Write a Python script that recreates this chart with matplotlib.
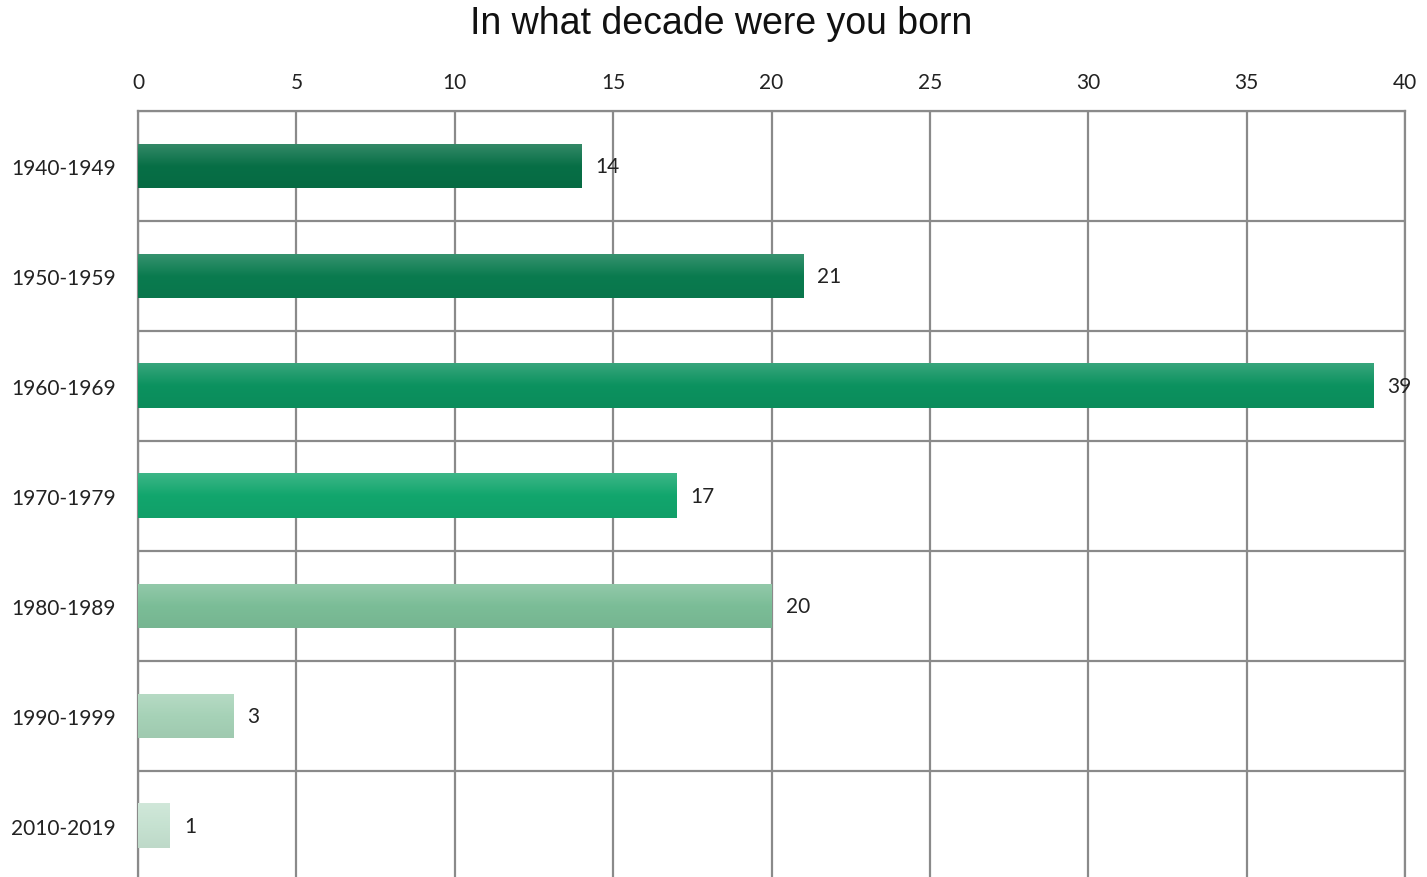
import numpy as np
import matplotlib.pyplot as plt
from matplotlib.colors import to_rgb

# Data
categories = ['1940-1949', '1950-1959', '1960-1969', '1970-1979',
              '1980-1989', '1990-1999', '2010-2019']
counts = [14, 21, 39, 17, 20, 3, 1]
bar_colors = ['#076f46', '#0a7b4f', '#0c925f', '#12a66d',
              '#7bbd97', '#a6d2b7', '#c6e2d1']

fig = plt.figure(figsize=(14.27, 8.78), dpi=100)
ax = fig.add_axes([138 / 1427, -4 / 878, (1405 - 138) / 1427, (880 - 110) / 878])

n = len(categories)

bar_h = 0.4
for i, (v, c) in enumerate(zip(counts, bar_colors)):
    base = np.array(to_rgb(c))
    light = base + (1 - base) * 0.18
    dark = base * 0.96
    t = np.linspace(0, 1, 64)[:, None]
    grad = np.where(t < 0.5, light + (base - light) * (t / 0.5),
                    base + (dark - base) * ((t - 0.5) / 0.5))
    img = grad[:, None, :]
    ax.imshow(img, extent=[0, v, i + bar_h / 2, i - bar_h / 2],
              aspect='auto', zorder=3, interpolation='bilinear')
    ax.text(v + 0.45, i, str(v), va='center', ha='left', fontsize=15,
            family='Lato', color='#222222', zorder=4)

ax.set_xlim(0, 40)
ax.set_ylim(n - 0.5, -0.5)

# Grid
ax.set_xticks(np.arange(0, 41, 5))
ax.set_yticks(range(n))
ax.set_yticks(np.arange(-0.5, n, 1), minor=True)
ax.set_yticklabels(categories, family='Lato', fontsize=15, color='#222222')
ax.xaxis.tick_top()
ax.tick_params(axis='x', labelsize=15, length=0, pad=14, colors='#222222')
ax.tick_params(axis='y', which='both', length=0, pad=16)
for lab in ax.get_xticklabels():
    lab.set_family('Lato')
ax.grid(axis='x', which='major', color='#8a8a8a', linewidth=1.6, zorder=1)
ax.grid(axis='y', which='minor', color='#8a8a8a', linewidth=1.6, zorder=1)
ax.grid(axis='y', which='major', visible=False)
for s in ax.spines.values():
    s.set_color('#8a8a8a')
    s.set_linewidth(1.6)

fig.text(0.505, 0.973, 'In what decade were you born', ha='center', va='center',
         fontsize=27, family='Liberation Sans', color='#111111')

fig.savefig('out.png', dpi=100)
